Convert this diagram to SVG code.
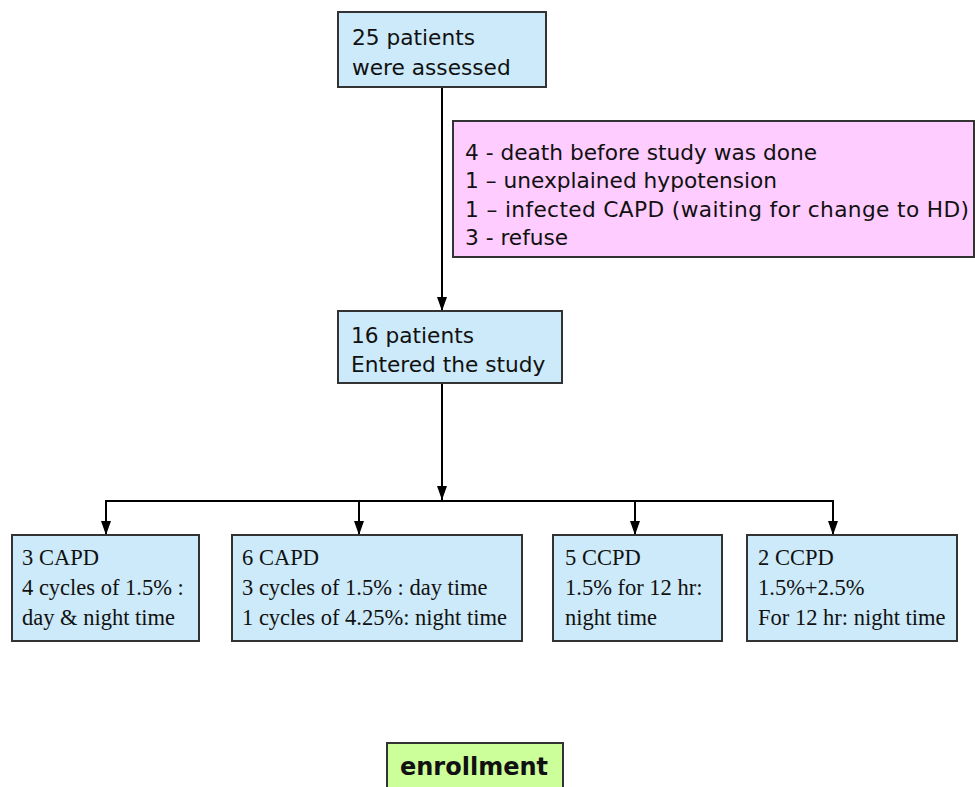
<svg xmlns="http://www.w3.org/2000/svg" width="975" height="787" viewBox="0 0 975 787">
<defs>
<marker id="arr" viewBox="0 0 14 10" refX="14" refY="5" markerWidth="14" markerHeight="10" markerUnits="userSpaceOnUse" orient="auto">
<path d="M0,0 L14,5 L0,10 Z" fill="#000"/>
</marker>
<style>
.box{stroke:#333;stroke-width:2}
.blue{fill:#cceaf9}
.pink{fill:#ffccff}
.green{fill:#ccff99}
.sans{font-family:"DejaVu Sans",Verdana,sans-serif;font-size:21.7px;fill:#111}
.serif{font-family:"Liberation Serif","Times New Roman",serif;font-size:22.5px;fill:#111}
.bold{font-family:"DejaVu Sans",Verdana,sans-serif;font-size:24px;font-weight:bold;fill:#111}
.conn{stroke:#000;stroke-width:2;fill:none}
</style>
</defs>
<rect width="975" height="787" fill="#fff"/>
<g id="connectors">
<line class="conn" x1="442" y1="87" x2="442" y2="311" marker-end="url(#arr)"/>
<line class="conn" x1="442" y1="383" x2="442" y2="500" marker-end="url(#arr)"/>
<line class="conn" x1="105" y1="501" x2="834" y2="501"/>
<line class="conn" x1="106" y1="500" x2="106" y2="535" marker-end="url(#arr)"/>
<line class="conn" x1="359" y1="501" x2="359" y2="535" marker-end="url(#arr)"/>
<line class="conn" x1="635" y1="501" x2="635" y2="535" marker-end="url(#arr)"/>
<line class="conn" x1="833" y1="500" x2="833" y2="535" marker-end="url(#arr)"/>
</g>
<g id="assessed">
<rect class="box blue" x="338" y="12" width="208" height="75"/>
<text class="sans" x="352" y="45">25 patients</text>
<text class="sans" x="352" y="75">were assessed</text>
</g>
<g id="excluded">
<rect class="box pink" x="453" y="121" width="521" height="136"/>
<text class="sans" x="465" y="160">4 - death before study was done</text>
<text class="sans" x="465" y="188">1 – unexplained hypotension</text>
<text class="sans" x="465" y="217" textLength="504" lengthAdjust="spacing">1 – infected CAPD (waiting for change to HD)</text>
<text class="sans" x="465" y="245">3 - refuse</text>
</g>
<g id="entered">
<rect class="box blue" x="338" y="311" width="224" height="72"/>
<text class="sans" x="351" y="343">16 patients</text>
<text class="sans" x="351" y="372">Entered the study</text>
</g>
<g id="capd3">
<rect class="box blue" x="12" y="535" width="187" height="106"/>
<text class="serif" x="22" y="565">3 CAPD</text>
<text class="serif" x="22" y="595">4 cycles of 1.5% :</text>
<text class="serif" x="22" y="625">day &amp; night time</text>
</g>
<g id="capd6">
<rect class="box blue" x="232" y="535" width="290" height="106"/>
<text class="serif" x="242" y="565">6 CAPD</text>
<text class="serif" x="242" y="595">3 cycles of 1.5% : day time</text>
<text class="serif" x="242" y="625">1 cycles of 4.25%: night time</text>
</g>
<g id="ccpd5">
<rect class="box blue" x="553" y="535" width="169" height="106"/>
<text class="serif" x="565" y="565">5 CCPD</text>
<text class="serif" x="565" y="595">1.5% for 12 hr:</text>
<text class="serif" x="565" y="625">night time</text>
</g>
<g id="ccpd2">
<rect class="box blue" x="747" y="535" width="210" height="106"/>
<text class="serif" x="758" y="565">2 CCPD</text>
<text class="serif" x="758" y="595">1.5%+2.5%</text>
<text class="serif" x="758" y="625">For 12 hr: night time</text>
</g>
<g id="enrollment">
<rect class="box green" x="387" y="743" width="176" height="60"/>
<text class="bold" x="400" y="775">enrollment</text>
</g>
</svg>
